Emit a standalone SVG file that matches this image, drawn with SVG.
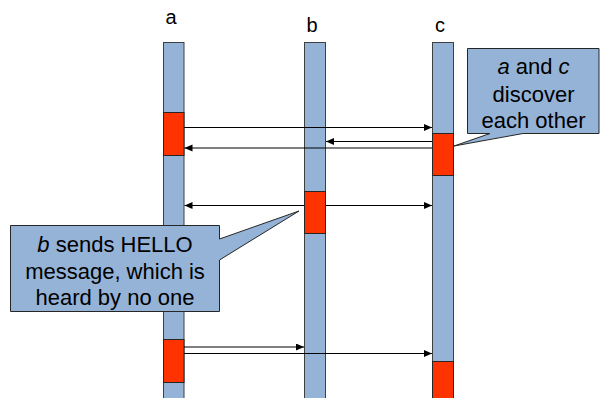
<svg xmlns="http://www.w3.org/2000/svg" width="600" height="398" viewBox="0 0 600 398">
  <style>
    .bar { fill: #95b3d7; stroke: #3f3f3f; stroke-width: 1; }
    .act { fill: #ff3300; stroke: #262626; stroke-width: 1; }
    .msg { stroke: #000; stroke-width: 1; fill: none; marker-end: url(#head); }
    .note { fill: #95b3d7; stroke: #262626; stroke-width: 1; }
    .lbl { font-family: "Liberation Sans", Arial, sans-serif; font-size: 20px; fill: #000; text-anchor: middle; }
    .txt { font-family: "Liberation Sans", Arial, sans-serif; font-size: 22px; fill: #000; text-anchor: middle; }
  </style>
  <defs>
    <marker id="head" markerUnits="userSpaceOnUse" markerWidth="9" markerHeight="8" refX="8" refY="3.5" orient="auto">
      <path d="M0,0 L8,3.5 L0,7 Z" fill="#000"/>
    </marker>
  </defs>

  <!-- node a: lifeline with activations -->
  <g id="node-a">
    <text class="lbl" x="171" y="24">a</text>
    <rect class="bar" x="163.5" y="42.5" width="20.5" height="370"/>
    <rect class="act" x="163.5" y="112.5" width="20.5" height="43"/>
    <rect class="act" x="163.5" y="339.5" width="20.5" height="43"/>
  </g>

  <!-- node b -->
  <g id="node-b">
    <text class="lbl" x="312" y="32">b</text>
    <rect class="bar" x="304.5" y="42.5" width="21" height="370"/>
    <rect class="act" x="304.5" y="191.5" width="21" height="42"/>
  </g>

  <!-- node c -->
  <g id="node-c">
    <text class="lbl" x="440" y="32">c</text>
    <rect class="bar" x="432.5" y="42.5" width="21" height="370"/>
    <rect class="act" x="432.5" y="133.5" width="21" height="42"/>
    <rect class="act" x="432.5" y="361.5" width="21" height="50"/>
  </g>

  <!-- messages -->
  <g id="connectors">
    <line class="msg" x1="184" y1="127.5" x2="432" y2="127.5"/>
    <line class="msg" x1="432" y1="141.5" x2="326" y2="141.5"/>
    <line class="msg" x1="432" y1="148" x2="184.5" y2="148"/>
    <line class="msg" x1="304" y1="205.5" x2="184.5" y2="205.5"/>
    <line class="msg" x1="326" y1="205.5" x2="432" y2="205.5"/>
    <line class="msg" x1="184" y1="347" x2="304" y2="347"/>
    <line class="msg" x1="184" y1="353.5" x2="432" y2="353.5"/>
  </g>

  <!-- callout: discovery -->
  <g id="note-discover">
    <path class="note" d="M467.5,48.5 H599 V133.5 H523 L454,146 L490,133.5 H467.5 Z"/>
    <text class="txt" x="533.5" y="74"><tspan font-style="italic">a</tspan> and <tspan font-style="italic">c</tspan></text>
    <text class="txt" x="533.5" y="101.5">discover</text>
    <text class="txt" x="533.5" y="128">each other</text>
  </g>

  <!-- callout: HELLO -->
  <g id="note-hello">
    <path class="note" d="M10.5,225.5 H219.5 V239 L299,211 L219.5,260 V311.5 H10.5 Z"/>
    <text class="txt" x="115" y="252"><tspan font-style="italic">b</tspan> sends HELLO</text>
    <text class="txt" x="115" y="279">message, which is</text>
    <text class="txt" x="115" y="305">heard by no one</text>
  </g>
</svg>
